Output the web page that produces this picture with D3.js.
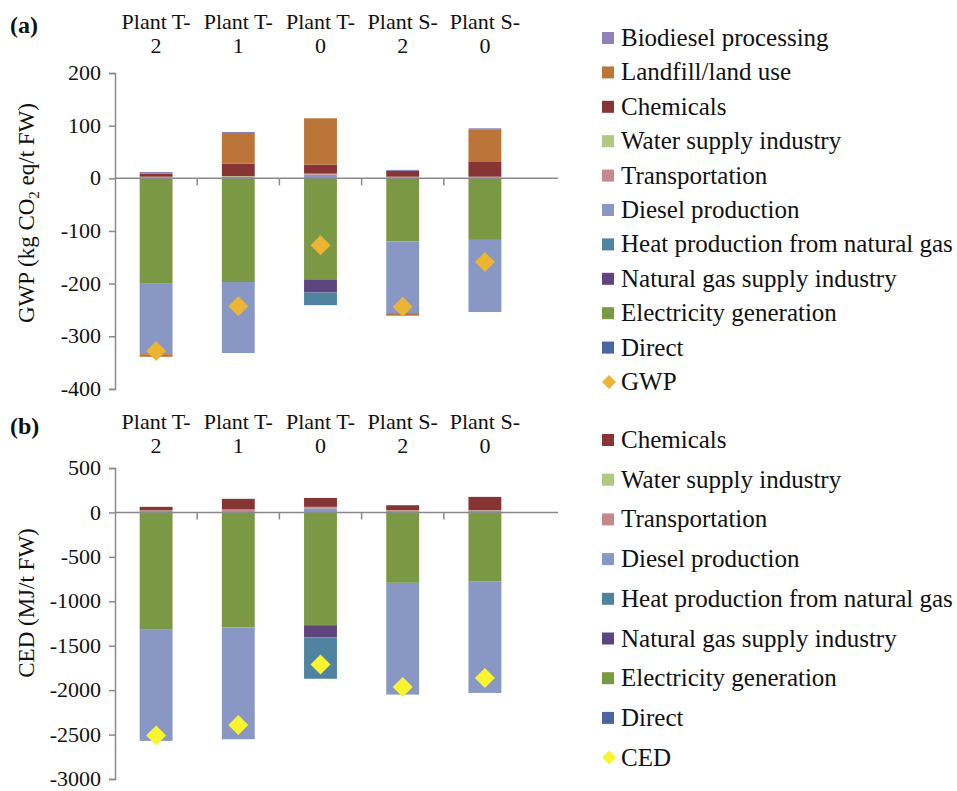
<!DOCTYPE html>
<html>
<head>
<meta charset="utf-8">
<script src="https://cdn.jsdelivr.net/npm/d3@7"></script>
<style>
  html, body { margin: 0; padding: 0; background: #fff; }
  svg { display: block; }
  svg text { font-family: "Liberation Serif", "Times New Roman", serif !important; fill: #111; }
</style>
</head>
<body>
<svg id="chart" width="957" height="791"></svg>
<script>
// Plants compared
const categories = ["Plant T-2", "Plant T-1", "Plant T-0", "Plant S-2", "Plant S-0"];

// Contribution colours
const colors = {
  "Direct": "#4a65a0",
  "Electricity generation": "#7b9845",
  "Natural gas supply industry": "#5e4580",
  "Heat production from natural gas": "#4f83a0",
  "Diesel production": "#8897c4",
  "Transportation": "#c4898a",
  "Water supply industry": "#b0c880",
  "Chemicals": "#863434",
  "Landfill/land use": "#bb7538",
  "Biodiesel processing": "#8f80b8"
};

// (a) GWP contributions, kg CO2 eq/t FW
const gwpDirect      = [0, 0, 0, 0, 0];
const gwpElectricity = [-199, -197, -192, -120, -117];
const gwpNatGas      = [0, 0, -25, 0, 0];
const gwpHeat        = [0, 0, -24, 0, 0];
const gwpDiesel      = [-135, -135, 7, -136, -137];
const gwpTransport   = [2, 3, 2, 2, 2];
const gwpWater       = [1, 1, 0, 1, 1];
const gwpChemicals   = [6, 24, 17, 11, 28];
const gwpLandfill    = [-5, 58, 88, -5, 61];
const gwpBiodiesel   = [3, 2, 0, 2, 3];
const gwpTotal       = [-328, -243, -127, -244, -159];
const gwpTicks       = [200, 100, 0, -100, -200, -300, -400];

// (b) CED contributions, MJ/t FW
const cedDirect      = [0, 0, 0, 0, 0];
const cedElectricity = [-1313, -1295, -1269, -792, -774];
const cedNatGas      = [0, 0, -138, 0, 0];
const cedHeat        = [0, 0, -465, 0, 0];
const cedDiesel      = [-1258, -1258, 45, -1258, -1257];
const cedTransport   = [20, 30, 15, 22, 22];
const cedWater       = [3, 3, 3, 3, 3];
const cedChemicals   = [40, 120, 100, 56, 150];
const cedTotal       = [-2511, -2393, -1712, -1964, -1864];
const cedTicks       = [500, 0, -500, -1000, -1500, -2000, -2500, -3000];

// Series in stacking order (first sits next to the zero line)
const gwpSeries = [
  ["Direct", gwpDirect], ["Electricity generation", gwpElectricity],
  ["Natural gas supply industry", gwpNatGas], ["Heat production from natural gas", gwpHeat],
  ["Diesel production", gwpDiesel], ["Transportation", gwpTransport],
  ["Water supply industry", gwpWater], ["Chemicals", gwpChemicals],
  ["Landfill/land use", gwpLandfill], ["Biodiesel processing", gwpBiodiesel]
];
const cedSeries = [
  ["Direct", cedDirect], ["Electricity generation", cedElectricity],
  ["Natural gas supply industry", cedNatGas], ["Heat production from natural gas", cedHeat],
  ["Diesel production", cedDiesel], ["Transportation", cedTransport],
  ["Water supply industry", cedWater], ["Chemicals", cedChemicals]
];

const svg = d3.select("#chart");
const axisColor = "#8a8a8a";
const serif = "Liberation Serif, Times New Roman, serif";

function drawPanel(opts) {
  const g = svg.append("g");
  const x = d3.scaleBand().domain(categories).range([115, 526]).paddingInner(0.6).paddingOuter(0.3);
  const xb = d3.scaleBand().domain(categories).range([115, 526]);
  const y = d3.scaleLinear().domain(opts.domain).range(opts.range);

  // stacked bars, positives up and negatives down
  const rows = categories.map((c, i) => {
    const r = { cat: c };
    opts.series.forEach(([k, v]) => { r[k] = v[i]; });
    return r;
  });
  const stacked = d3.stack()
    .keys(opts.series.map(s => s[0]))
    .offset(d3.stackOffsetDiverging)(rows);

  g.selectAll("g.layer").data(stacked).join("g")
    .attr("class", "layer")
    .attr("fill", d => colors[d.key])
    .selectAll("rect").data(d => d).join("rect")
      .attr("x", d => x(d.data.cat))
      .attr("width", x.bandwidth())
      .attr("y", d => y(Math.max(d[0], d[1])))
      .attr("height", d => Math.abs(y(d[0]) - y(d[1])));

  // y axis
  const yAxis = d3.axisLeft(y).tickValues(opts.ticks).tickSize(6).tickPadding(8)
    .tickFormat(d => String(d));
  const ya = g.append("g").attr("transform", "translate(115,0)").call(yAxis)
    .attr("font-family", serif).attr("font-size", 22);
  ya.select(".domain").attr("stroke", axisColor).attr("stroke-width", 1.5);
  ya.selectAll(".tick line").attr("stroke", axisColor).attr("stroke-width", 1.5);
  ya.selectAll(".tick text").attr("dy", "0.3em").attr("fill", "#111");

  // zero line with category separators
  const zy = y(0);
  g.append("line").attr("x1", 115).attr("x2", 558).attr("y1", zy).attr("y2", zy)
    .attr("stroke", axisColor).attr("stroke-width", 1.5);
  g.selectAll("line.sep").data(categories.slice(1)).join("line")
    .attr("class", "sep")
    .attr("x1", d => xb(d)).attr("x2", d => xb(d))
    .attr("y1", zy).attr("y2", zy + 7)
    .attr("stroke", axisColor).attr("stroke-width", 1.5);

  // category labels in two lines above the plot
  const lab = g.selectAll("text.cat").data(categories).join("text")
    .attr("class", "cat")
    .attr("text-anchor", "middle")
    .style("font-size", "22px");
  lab.append("tspan")
    .attr("x", d => xb(d) + xb.bandwidth() / 2).attr("y", opts.labelY)
    .text(d => d.slice(0, d.lastIndexOf("-") + 1));
  lab.append("tspan")
    .attr("x", d => xb(d) + xb.bandwidth() / 2).attr("y", opts.labelY + 24)
    .text(d => d.slice(d.lastIndexOf("-") + 1));

  // total markers
  const diamond = d3.symbol(d3.symbolSquare, 200);
  g.selectAll("path.total").data(opts.total).join("path")
    .attr("class", "total")
    .attr("d", diamond)
    .attr("fill", opts.markerColor)
    .attr("transform", (d, i) => `translate(${xb(categories[i]) + xb.bandwidth() / 2},${y(d)}) rotate(45)`);

  // panel letter
  g.append("text").attr("x", 10).attr("y", opts.letterY)
    .style("font-size", "24px").style("font-weight", "bold").text(opts.letter);

  return { g, y };
}

// (a) GWP
drawPanel({
  domain: [200, -400], range: [73, 388.9], ticks: gwpTicks,
  series: gwpSeries, total: gwpTotal, markerColor: "#ebb434",
  labelY: 29, letterY: 33, letter: "(a)"
});
const ta = svg.append("text")
  .attr("transform", "translate(34,213) rotate(-90)")
  .attr("text-anchor", "middle")
  .style("font-size", "23px");
ta.append("tspan").text("GWP (kg CO");
ta.append("tspan").attr("dy", 5).style("font-size", "15px").text("2");
ta.append("tspan").attr("dy", -5).text(" eq/t FW)");

// (b) CED
drawPanel({
  domain: [500, -3000], range: [468, 779], ticks: cedTicks,
  series: cedSeries, total: cedTotal, markerColor: "#f8f530",
  labelY: 429, letterY: 434, letter: "(b)"
});
svg.append("text")
  .attr("transform", "translate(34,603) rotate(-90)")
  .attr("text-anchor", "middle")
  .style("font-size", "23px")
  .text("CED (MJ/t FW)");

// legends
function drawLegend(items, y0, step, markerLabel, markerColor) {
  const lg = svg.append("g");
  const all = items.concat([markerLabel]);
  const it = lg.selectAll("g.item").data(all).join("g")
    .attr("class", "item")
    .attr("transform", (d, i) => `translate(602,${y0 + i * step})`);
  it.filter(d => d !== markerLabel).append("rect")
    .attr("x", 0).attr("y", -6).attr("width", 12).attr("height", 12)
    .attr("fill", d => colors[d]);
  it.filter(d => d === markerLabel).append("path")
    .attr("d", d3.symbol(d3.symbolSquare, 98))
    .attr("transform", "translate(7,0) rotate(45)")
    .attr("fill", markerColor);
  it.append("text").attr("x", 19).attr("y", 8)
    .style("font-size", "25px").text(d => d);
}

drawLegend(gwpSeries.map(s => s[0]).reverse(), 38, 34.4, "GWP", "#ebb434");
drawLegend(cedSeries.map(s => s[0]).reverse(), 440, 39.7, "CED", "#f8f530");
</script>
</body>
</html>
